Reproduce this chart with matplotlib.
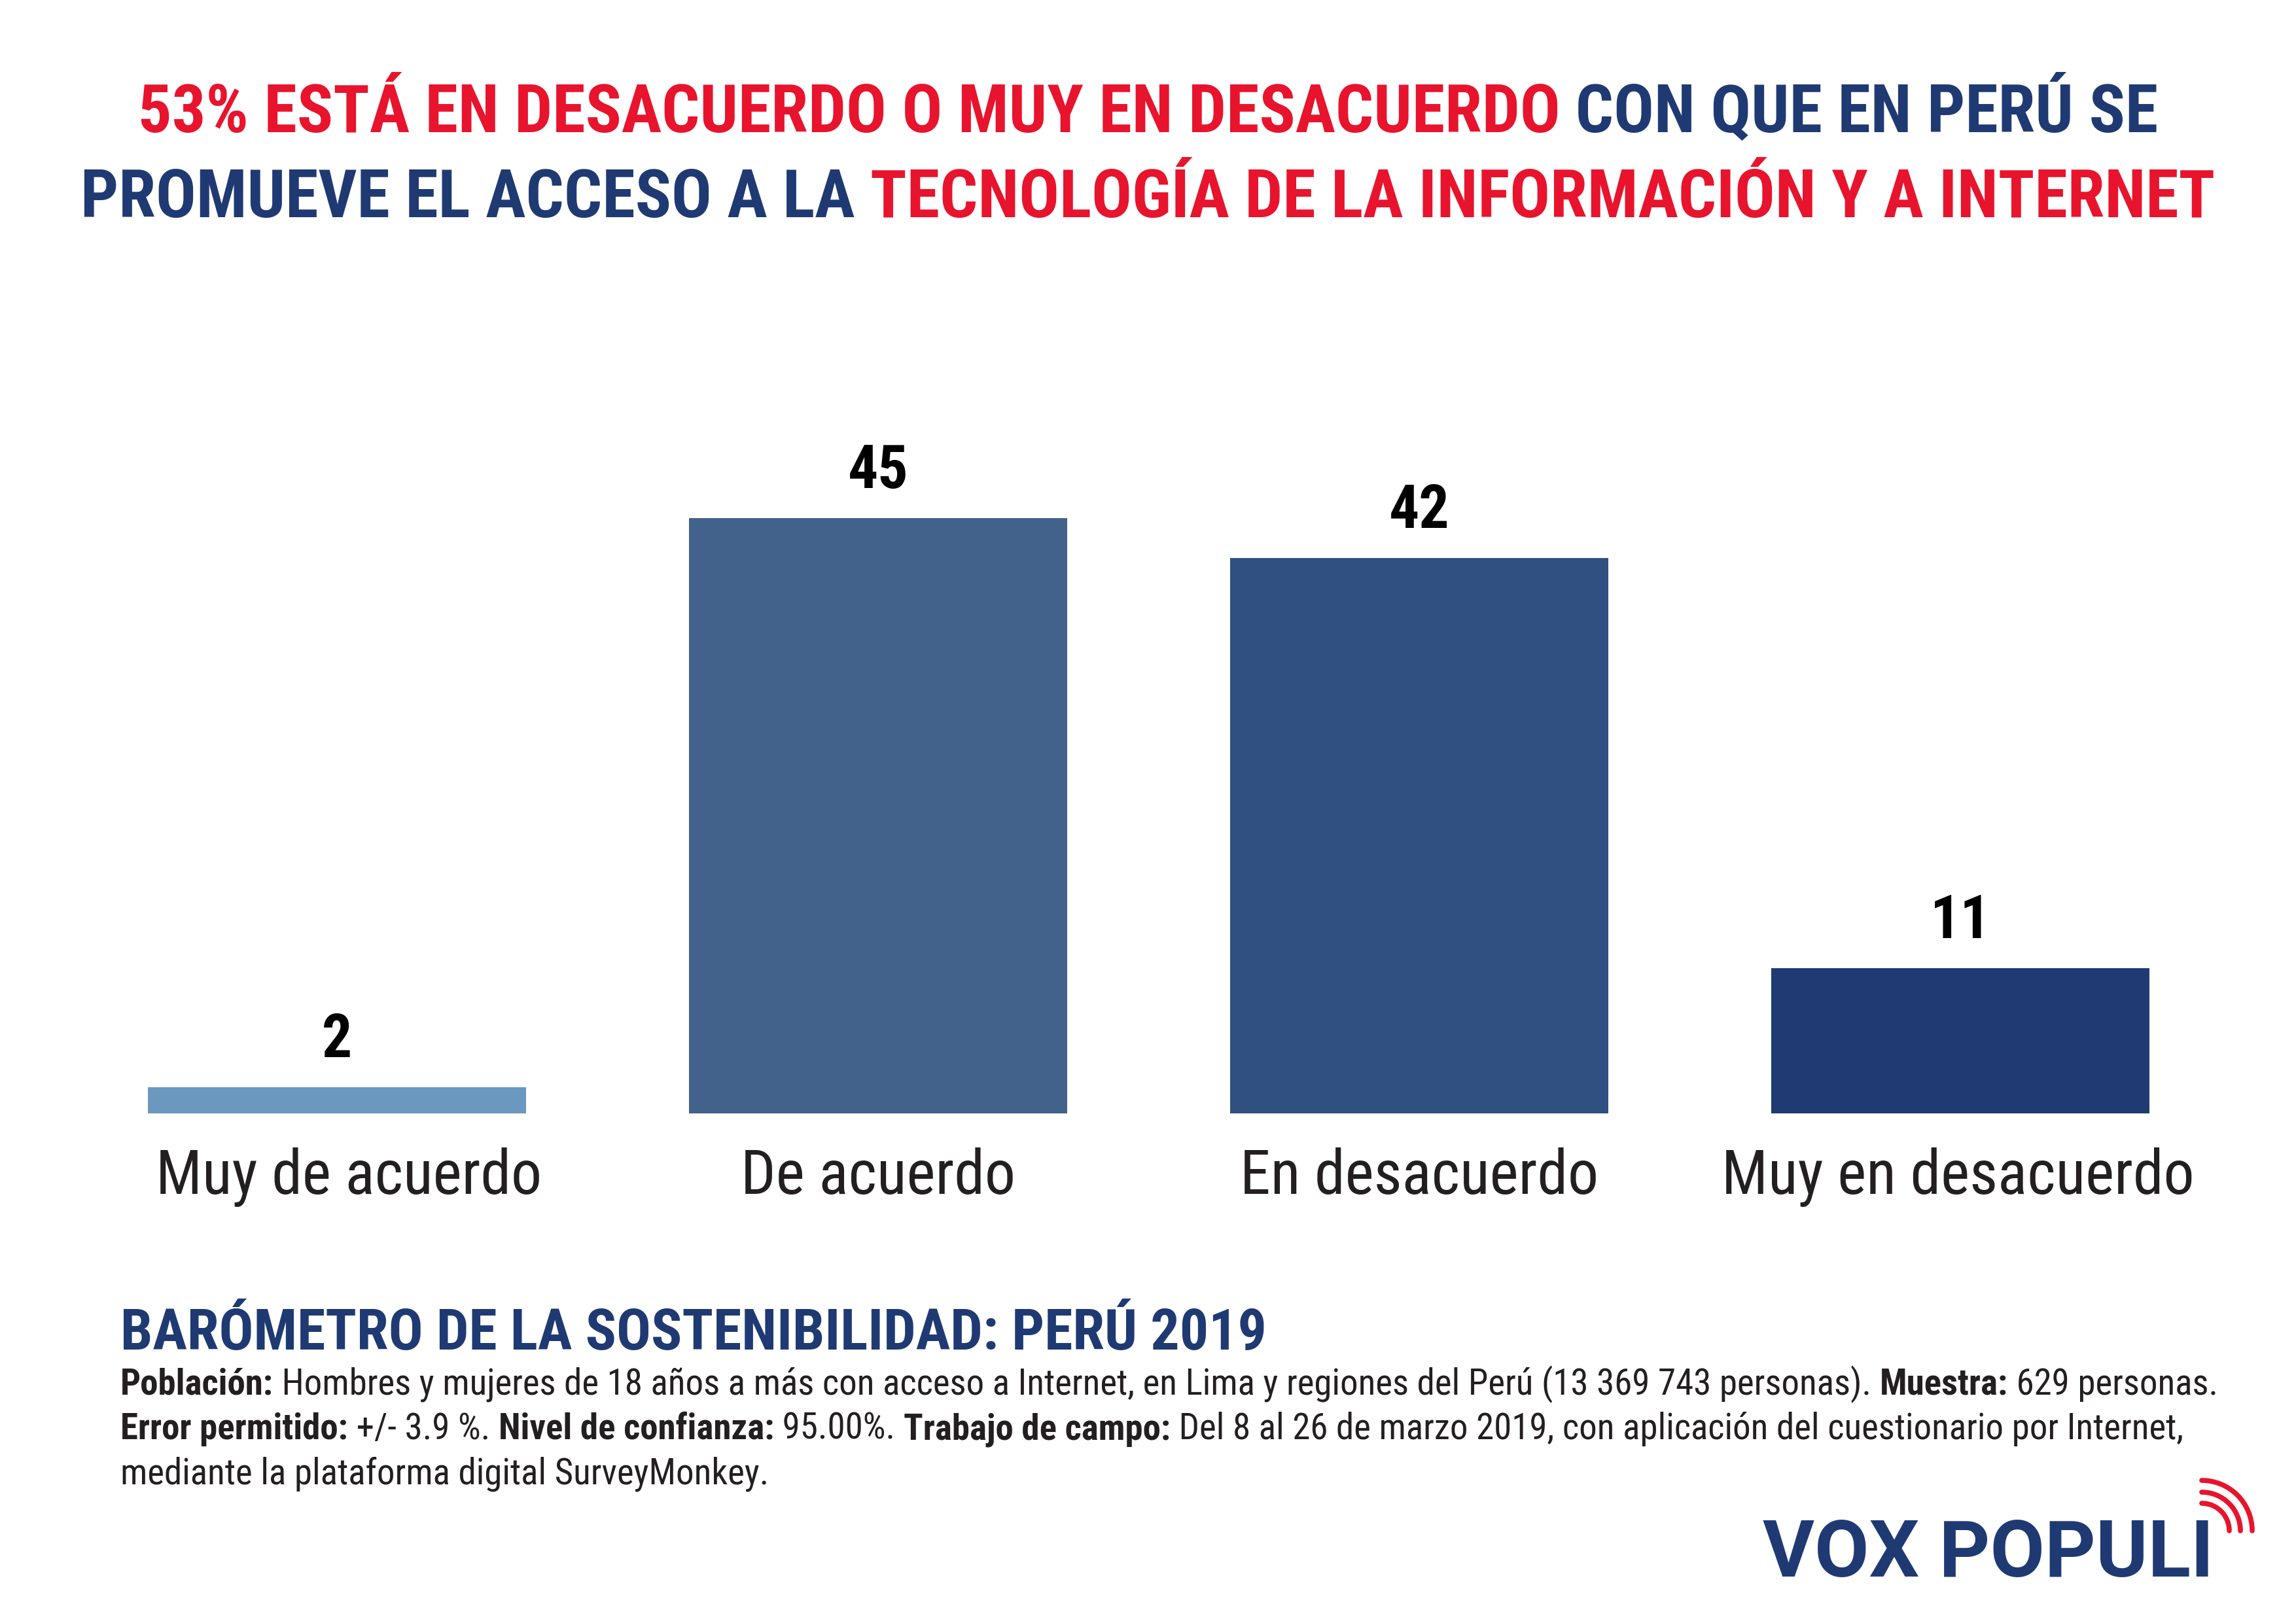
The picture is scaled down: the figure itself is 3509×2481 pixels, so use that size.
import os
import matplotlib
matplotlib.use("Agg")
import matplotlib.pyplot as plt
from matplotlib.patches import Arc
from matplotlib import font_manager as fm
from matplotlib.font_manager import FontProperties

# ---------------- data ----------------
categories = ["Muy de acuerdo", "De acuerdo", "En desacuerdo", "Muy en desacuerdo"]
values = [2, 45, 42, 11]
bar_colors = ["#6b98bf", "#42618b", "#2f5080", "#203a73"]

RED = "#e8142d"
NAVY = "#1f3a73"
TXT = "#231f20"

title_line1 = [("53% ESTÁ EN DESACUERDO O MUY EN DESACUERDO", RED), (" CON QUE EN PERÚ SE", NAVY)]
title_line2 = [("PROMUEVE EL ACCESO A LA ", NAVY), ("TECNOLOGÍA DE LA INFORMACIÓN Y A INTERNET", RED)]

footer_heading = "BARÓMETRO DE LA SOSTENIBILIDAD: PERÚ 2019"
footer_line1 = [("Población:", "bold"),
                (" Hombres y mujeres de 18 años a más con acceso a Internet, en Lima y regiones del Perú (13 369 743 personas). ", "normal"),
                ("Muestra:", "bold"), (" 629 personas.", "normal")]
footer_line2 = [("Error permitido:", "bold"), (" +/- 3.9 %. ", "normal"),
                ("Nivel de confianza:", "bold"), (" 95.00%. ", "normal"),
                ("Trabajo de campo:", "bold"),
                (" Del 8 al 26 de marzo 2019, con aplicación del cuestionario por Internet,", "normal")]
footer_line3 = [("mediante la plataforma digital SurveyMonkey.", "normal")]

# ---------------- pick a condensed font if one is installed ----------------
files = {os.path.basename(f.fname).lower(): f.fname for f in fm.fontManager.ttflist}
prefs = [
    ("robotocondensed-regular.ttf", "robotocondensed-bold.ttf"),
    ("liberationsansnarrow-regular.ttf", "liberationsansnarrow-bold.ttf"),
    ("dejavusanscondensed.ttf", "dejavusanscondensed-bold.ttf"),
]
REG = FontProperties(family="DejaVu Sans")
BOLD = FontProperties(family="DejaVu Sans", weight="bold")
for r, b in prefs:
    if r in files and b in files:
        REG = FontProperties(fname=files[r])
        BOLD = FontProperties(fname=files[b])
        break

W, H = 3509, 2481
fig = plt.figure(figsize=(W / 100, H / 100), dpi=100)
fig.patch.set_facecolor("white")
renderer = fig.canvas.get_renderer()


def measure(s, fp, size):
    t = fig.text(0, 0, s, fontproperties=fp, fontsize=size)
    w = t.get_window_extent(renderer).width
    t.remove()
    return w


def advance(s, fp, size):
    return measure("|" + s + "|", fp, size) - measure("||", fp, size)


def fit_size(parts, target_px, base=50):
    w = sum(advance(s, fp, base) for s, fp, _ in parts)
    return base * target_px / w


def rich_line(parts, y_px, size, x_px=None, center=False):
    # parts: list of (text, fontproperties, color)
    widths = [advance(s, fp, size) for s, fp, _ in parts]
    total = sum(widths)
    x = (W / 2 - total / 2) if center else x_px
    for (s, fp, c), w in zip(parts, widths):
        fig.text(x / W, 1 - y_px / H, s, ha="left", va="baseline",
                 fontproperties=fp, fontsize=size, color=c)
        x += w


# ---------------- title ----------------
t1 = [(s, BOLD, c) for s, c in title_line1]
t2 = [(s, BOLD, c) for s, c in title_line2]
tsize = min(fit_size(t1, 3089), 96)
rich_line(t1, 202, tsize, center=True)
rich_line(t2, 332, tsize, center=True)

# ---------------- bars ----------------
ax = fig.add_axes([101.5 / W, 1 - 1702 / H, 3308 / W, 1011 / H])
x = list(range(len(categories)))
ax.bar(x, values, width=0.70, color=bar_colors, edgecolor="none")
ax.set_xlim(-0.5, 3.5)
ax.set_ylim(0, 50)
ax.axis("off")
vsize = 66
for xi, v in zip(x, values):
    ax.annotate(f"{v}", xy=(xi, v), xytext=(0, 33), textcoords="offset points",
                ha="center", va="baseline", fontproperties=BOLD, fontsize=vsize,
                color="black")
csize = min(fit_size([(categories[0], REG, None)], 591), 74)
label_dx = [13, 0, 0, -3]
for xi, c, dx in zip(x, categories, label_dx):
    ax.annotate(c, xy=(xi, 0), xycoords=("data", "axes fraction"),
                xytext=(dx, -88.5), textcoords="offset points",
                ha="center", va="baseline", fontproperties=REG, fontsize=csize,
                color=TXT)

# ---------------- footer ----------------
hsize = min(fit_size([(footer_heading, BOLD, None)], 1755), 64)
fig.text(184 / W, 1 - 2063 / H, footer_heading, ha="left", va="baseline",
         fontproperties=BOLD, fontsize=hsize, color=NAVY)
fl = [[(s, BOLD if w == "bold" else REG, TXT) for s, w in line]
      for line in (footer_line1, footer_line2, footer_line3)]
fsize = min(fit_size(fl[0], 3208), 42)
for line, ypx in zip(fl, [2132, 2200, 2268]):
    rich_line(line, ypx, fsize, x_px=184)

# ---------------- logo ----------------
fig.text(3383 / W, 1 - 2410 / H, "VOX POPULI", ha="right", va="baseline",
         fontsize=87, fontweight="bold", family=["Roboto", "DejaVu Sans"], color=NAVY)
cx, cy = 3365 / 100, (H - 2340) / 100
for r in [42, 59, 77]:
    fig.add_artist(Arc((cx, cy), 2 * r / 100, 2 * r / 100, theta1=0, theta2=90,
                       transform=fig.dpi_scale_trans, color=RED, lw=5.5,
                       capstyle="round"))

fig.savefig("out.png", dpi=100, facecolor="white")
